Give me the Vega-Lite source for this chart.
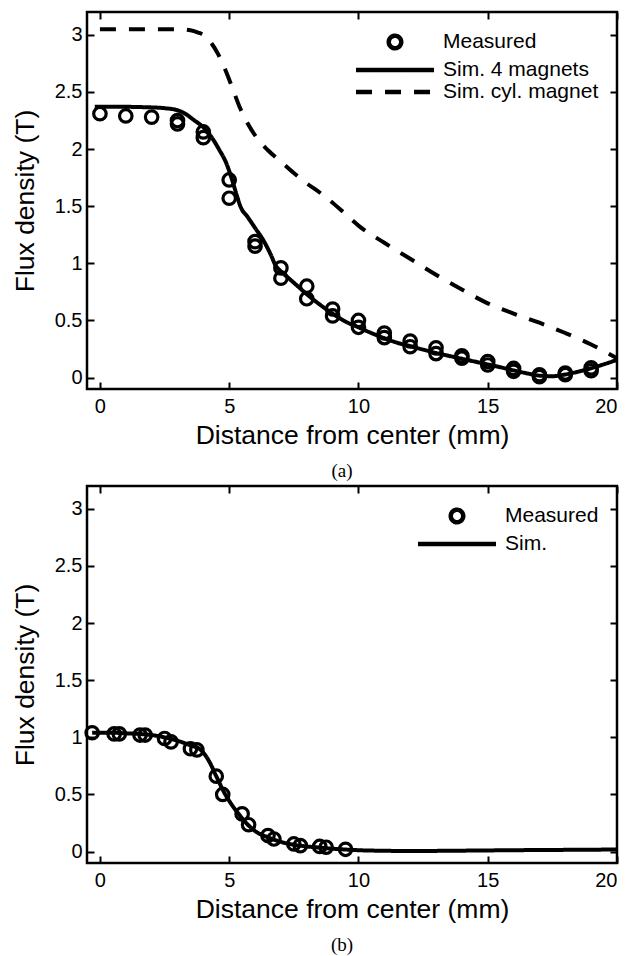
{
  "$schema": "https://vega.github.io/schema/vega-lite/v6.json",
  "background": "white",
  "padding": {"left": 10, "top": 9, "right": 4, "bottom": 5},
  "datasets": {
    "a": [
      {"series": "Sim. 4 magnets", "x": -0.2, "y": 2.37},
      {"series": "Sim. 4 magnets", "x": 0.5, "y": 2.37},
      {"series": "Sim. 4 magnets", "x": 1, "y": 2.37},
      {"series": "Sim. 4 magnets", "x": 1.5, "y": 2.368},
      {"series": "Sim. 4 magnets", "x": 2, "y": 2.365},
      {"series": "Sim. 4 magnets", "x": 2.5, "y": 2.358},
      {"series": "Sim. 4 magnets", "x": 3, "y": 2.34},
      {"series": "Sim. 4 magnets", "x": 3.3, "y": 2.31},
      {"series": "Sim. 4 magnets", "x": 3.6, "y": 2.26},
      {"series": "Sim. 4 magnets", "x": 4, "y": 2.19},
      {"series": "Sim. 4 magnets", "x": 4.3, "y": 2.11},
      {"series": "Sim. 4 magnets", "x": 4.6, "y": 2.0},
      {"series": "Sim. 4 magnets", "x": 4.9, "y": 1.87},
      {"series": "Sim. 4 magnets", "x": 5.1, "y": 1.74},
      {"series": "Sim. 4 magnets", "x": 5.3, "y": 1.59},
      {"series": "Sim. 4 magnets", "x": 5.45, "y": 1.49},
      {"series": "Sim. 4 magnets", "x": 5.7, "y": 1.41},
      {"series": "Sim. 4 magnets", "x": 6.0, "y": 1.31},
      {"series": "Sim. 4 magnets", "x": 6.3, "y": 1.21},
      {"series": "Sim. 4 magnets", "x": 6.6, "y": 1.08},
      {"series": "Sim. 4 magnets", "x": 6.8, "y": 0.98},
      {"series": "Sim. 4 magnets", "x": 7.0, "y": 0.93},
      {"series": "Sim. 4 magnets", "x": 7.3, "y": 0.87},
      {"series": "Sim. 4 magnets", "x": 7.7, "y": 0.79},
      {"series": "Sim. 4 magnets", "x": 8.0, "y": 0.73},
      {"series": "Sim. 4 magnets", "x": 8.5, "y": 0.64},
      {"series": "Sim. 4 magnets", "x": 9, "y": 0.56},
      {"series": "Sim. 4 magnets", "x": 9.5, "y": 0.49},
      {"series": "Sim. 4 magnets", "x": 10, "y": 0.44},
      {"series": "Sim. 4 magnets", "x": 10.5, "y": 0.39},
      {"series": "Sim. 4 magnets", "x": 11, "y": 0.345},
      {"series": "Sim. 4 magnets", "x": 11.5, "y": 0.305},
      {"series": "Sim. 4 magnets", "x": 12, "y": 0.275},
      {"series": "Sim. 4 magnets", "x": 12.5, "y": 0.245},
      {"series": "Sim. 4 magnets", "x": 13, "y": 0.215},
      {"series": "Sim. 4 magnets", "x": 13.5, "y": 0.19},
      {"series": "Sim. 4 magnets", "x": 14, "y": 0.165},
      {"series": "Sim. 4 magnets", "x": 14.5, "y": 0.14},
      {"series": "Sim. 4 magnets", "x": 15, "y": 0.115},
      {"series": "Sim. 4 magnets", "x": 15.5, "y": 0.09},
      {"series": "Sim. 4 magnets", "x": 16, "y": 0.063},
      {"series": "Sim. 4 magnets", "x": 16.5, "y": 0.038},
      {"series": "Sim. 4 magnets", "x": 17, "y": 0.017},
      {"series": "Sim. 4 magnets", "x": 17.5, "y": 0.012},
      {"series": "Sim. 4 magnets", "x": 18, "y": 0.027},
      {"series": "Sim. 4 magnets", "x": 18.5, "y": 0.052},
      {"series": "Sim. 4 magnets", "x": 19, "y": 0.082},
      {"series": "Sim. 4 magnets", "x": 19.5, "y": 0.117},
      {"series": "Sim. 4 magnets", "x": 20, "y": 0.155},
      {"series": "Sim. cyl. magnet", "x": 0, "y": 3.05},
      {"series": "Sim. cyl. magnet", "x": 1, "y": 3.05},
      {"series": "Sim. cyl. magnet", "x": 2, "y": 3.05},
      {"series": "Sim. cyl. magnet", "x": 3, "y": 3.05},
      {"series": "Sim. cyl. magnet", "x": 3.5, "y": 3.04},
      {"series": "Sim. cyl. magnet", "x": 3.8, "y": 3.02},
      {"series": "Sim. cyl. magnet", "x": 4.0, "y": 3.0},
      {"series": "Sim. cyl. magnet", "x": 4.3, "y": 2.93},
      {"series": "Sim. cyl. magnet", "x": 4.55, "y": 2.84},
      {"series": "Sim. cyl. magnet", "x": 4.8, "y": 2.72},
      {"series": "Sim. cyl. magnet", "x": 5.1, "y": 2.55},
      {"series": "Sim. cyl. magnet", "x": 5.4, "y": 2.37},
      {"series": "Sim. cyl. magnet", "x": 5.7, "y": 2.23},
      {"series": "Sim. cyl. magnet", "x": 6.1, "y": 2.09},
      {"series": "Sim. cyl. magnet", "x": 6.5, "y": 1.99},
      {"series": "Sim. cyl. magnet", "x": 7, "y": 1.89},
      {"series": "Sim. cyl. magnet", "x": 7.5, "y": 1.79},
      {"series": "Sim. cyl. magnet", "x": 8, "y": 1.70},
      {"series": "Sim. cyl. magnet", "x": 8.5, "y": 1.62},
      {"series": "Sim. cyl. magnet", "x": 9, "y": 1.53},
      {"series": "Sim. cyl. magnet", "x": 9.5, "y": 1.43},
      {"series": "Sim. cyl. magnet", "x": 10, "y": 1.33},
      {"series": "Sim. cyl. magnet", "x": 11, "y": 1.18},
      {"series": "Sim. cyl. magnet", "x": 12, "y": 1.04},
      {"series": "Sim. cyl. magnet", "x": 13, "y": 0.90},
      {"series": "Sim. cyl. magnet", "x": 14, "y": 0.77},
      {"series": "Sim. cyl. magnet", "x": 15, "y": 0.65},
      {"series": "Sim. cyl. magnet", "x": 16, "y": 0.56},
      {"series": "Sim. cyl. magnet", "x": 17, "y": 0.48},
      {"series": "Sim. cyl. magnet", "x": 18, "y": 0.39},
      {"series": "Sim. cyl. magnet", "x": 19, "y": 0.29},
      {"series": "Sim. cyl. magnet", "x": 20, "y": 0.17},
      {"series": "Measured", "x": 0, "y": 2.31},
      {"series": "Measured", "x": 1, "y": 2.29},
      {"series": "Measured", "x": 2, "y": 2.28},
      {"series": "Measured", "x": 3, "y": 2.25},
      {"series": "Measured", "x": 3, "y": 2.22},
      {"series": "Measured", "x": 4, "y": 2.15},
      {"series": "Measured", "x": 4, "y": 2.10},
      {"series": "Measured", "x": 5, "y": 1.73},
      {"series": "Measured", "x": 5, "y": 1.57},
      {"series": "Measured", "x": 6, "y": 1.19},
      {"series": "Measured", "x": 6, "y": 1.15},
      {"series": "Measured", "x": 7, "y": 0.96},
      {"series": "Measured", "x": 7, "y": 0.87},
      {"series": "Measured", "x": 8, "y": 0.80},
      {"series": "Measured", "x": 8, "y": 0.69},
      {"series": "Measured", "x": 9, "y": 0.60},
      {"series": "Measured", "x": 9, "y": 0.54},
      {"series": "Measured", "x": 10, "y": 0.50},
      {"series": "Measured", "x": 10, "y": 0.44},
      {"series": "Measured", "x": 11, "y": 0.39},
      {"series": "Measured", "x": 11, "y": 0.35},
      {"series": "Measured", "x": 12, "y": 0.32},
      {"series": "Measured", "x": 12, "y": 0.27},
      {"series": "Measured", "x": 13, "y": 0.26},
      {"series": "Measured", "x": 13, "y": 0.21},
      {"series": "Measured", "x": 14, "y": 0.19},
      {"series": "Measured", "x": 14, "y": 0.17},
      {"series": "Measured", "x": 15, "y": 0.14},
      {"series": "Measured", "x": 15, "y": 0.11},
      {"series": "Measured", "x": 16, "y": 0.08},
      {"series": "Measured", "x": 16, "y": 0.055},
      {"series": "Measured", "x": 17, "y": 0.025},
      {"series": "Measured", "x": 17, "y": 0.008},
      {"series": "Measured", "x": 18, "y": 0.04},
      {"series": "Measured", "x": 18, "y": 0.025},
      {"series": "Measured", "x": 19, "y": 0.085},
      {"series": "Measured", "x": 19, "y": 0.06}
    ],
    "b": [
      {"series": "Sim.", "x": -0.3, "y": 1.04},
      {"series": "Sim.", "x": 0.5, "y": 1.04},
      {"series": "Sim.", "x": 1, "y": 1.035},
      {"series": "Sim.", "x": 1.5, "y": 1.03},
      {"series": "Sim.", "x": 2, "y": 1.02},
      {"series": "Sim.", "x": 2.5, "y": 1.0},
      {"series": "Sim.", "x": 3, "y": 0.97},
      {"series": "Sim.", "x": 3.5, "y": 0.93},
      {"series": "Sim.", "x": 3.9, "y": 0.89},
      {"series": "Sim.", "x": 4.2, "y": 0.80},
      {"series": "Sim.", "x": 4.5, "y": 0.66},
      {"series": "Sim.", "x": 4.8, "y": 0.52},
      {"series": "Sim.", "x": 5.1, "y": 0.41},
      {"series": "Sim.", "x": 5.4, "y": 0.32},
      {"series": "Sim.", "x": 5.7, "y": 0.24},
      {"series": "Sim.", "x": 6.0, "y": 0.18},
      {"series": "Sim.", "x": 6.5, "y": 0.125},
      {"series": "Sim.", "x": 7.0, "y": 0.085},
      {"series": "Sim.", "x": 7.5, "y": 0.06},
      {"series": "Sim.", "x": 8, "y": 0.045},
      {"series": "Sim.", "x": 8.5, "y": 0.035},
      {"series": "Sim.", "x": 9, "y": 0.025},
      {"series": "Sim.", "x": 9.5, "y": 0.018},
      {"series": "Sim.", "x": 10, "y": 0.012},
      {"series": "Sim.", "x": 11, "y": 0.007},
      {"series": "Sim.", "x": 12, "y": 0.005},
      {"series": "Sim.", "x": 14, "y": 0.008},
      {"series": "Sim.", "x": 16, "y": 0.012},
      {"series": "Sim.", "x": 18, "y": 0.015},
      {"series": "Sim.", "x": 20, "y": 0.018},
      {"series": "Measured", "x": -0.3, "y": 1.04},
      {"series": "Measured", "x": 0.55, "y": 1.03},
      {"series": "Measured", "x": 0.75, "y": 1.03},
      {"series": "Measured", "x": 1.55, "y": 1.02},
      {"series": "Measured", "x": 1.75, "y": 1.02},
      {"series": "Measured", "x": 2.5, "y": 0.99},
      {"series": "Measured", "x": 2.75, "y": 0.96},
      {"series": "Measured", "x": 3.5, "y": 0.90},
      {"series": "Measured", "x": 3.75, "y": 0.89},
      {"series": "Measured", "x": 4.5, "y": 0.66},
      {"series": "Measured", "x": 4.75, "y": 0.50},
      {"series": "Measured", "x": 5.5, "y": 0.33},
      {"series": "Measured", "x": 5.75, "y": 0.235},
      {"series": "Measured", "x": 6.5, "y": 0.14},
      {"series": "Measured", "x": 6.73, "y": 0.11},
      {"series": "Measured", "x": 7.5, "y": 0.067},
      {"series": "Measured", "x": 7.75, "y": 0.052},
      {"series": "Measured", "x": 8.5, "y": 0.045},
      {"series": "Measured", "x": 8.75, "y": 0.038},
      {"series": "Measured", "x": 9.5, "y": 0.02}
    ]
  },
  "config": {
    "font": "Liberation Sans",
    "view": {"stroke": "black", "strokeWidth": 2.5},
    "axis": {
      "labelFont": "Liberation Sans", "titleFont": "Liberation Sans",
      "labelFontSize": 20, "titleFontSize": 26.5, "titleFontWeight": "normal",
      "labelColor": "black", "titleColor": "black",
      "tickColor": "black", "tickWidth": 2, "tickSize": -7,
      "domain": false, "grid": false
    },
    "legend": {
      "orient": "top-right", "offset": 18, "padding": 0,
      "labelFont": "Liberation Sans", "labelFontSize": 21, "labelColor": "black",
      "symbolSize": 380, "symbolStrokeWidth": 4.5, "symbolStrokeColor": "black",
      "symbolFillColor": "transparent",
      "labelOffset": 36, "rowPadding": 0
    },
    "title": {"font": "Liberation Serif", "fontSize": 19, "fontWeight": "normal", "color": "black"}
  },
  "spacing": 1,
  "resolve": {"scale": {"x": "independent", "y": "independent", "shape": "independent", "strokeDash": "independent"}},
  "vconcat": [
    {
      "width": 530, "height": 377,
      "title": {"text": "(a)", "orient": "bottom", "anchor": "middle", "offset": 13, "dx": -10},
      "data": {"name": "a"},
      "resolve": {"axis": {"x": "independent", "y": "independent"}},
      "layer": [
        {
          "transform": [{"filter": "datum.series !== 'Measured'"}],
          "mark": {"type": "line", "color": "black", "strokeWidth": 4, "interpolate": "monotone"},
          "encoding": {
            "x": {"field": "x", "type": "quantitative", "scale": {"domain": [-0.5, 20], "nice": false, "zero": false},
                  "axis": {"orient": "bottom", "values": [0, 5, 10, 15, 20], "labelPadding": 14, "title": "Distance from center (mm)", "titlePadding": 6}},
            "y": {"field": "y", "type": "quantitative", "scale": {"domain": [-0.1, 3.2], "nice": false, "zero": false},
                  "axis": {"orient": "left", "values": [0, 0.5, 1, 1.5, 2, 2.5, 3], "format": "~g", "labelPadding": 12, "title": "Flux density (T)", "titlePadding": 15}},
            "detail": {"field": "series"},
            "strokeDash": {"field": "series", "type": "nominal",
              "scale": {"domain": ["Measured", "Sim. 4 magnets", "Sim. cyl. magnet"], "range": [[1, 0], [1, 0], [16, 13]]},
              "legend": {"title": null}}
          }
        },
        {
          "transform": [{"filter": "datum.series === 'Measured'"}],
          "mark": {"type": "point", "filled": false, "color": "black", "strokeWidth": 3.2, "size": 380, "opacity": 1},
          "encoding": {
            "x": {"field": "x", "type": "quantitative", "axis": {"orient": "top", "values": [0, 5, 10, 15, 20], "labels": false, "title": null}},
            "y": {"field": "y", "type": "quantitative", "axis": {"orient": "right", "values": [0, 0.5, 1, 1.5, 2, 2.5, 3], "labels": false, "title": null}},
            "shape": {"field": "series", "type": "nominal",
              "scale": {"domain": ["Measured", "Sim. 4 magnets", "Sim. cyl. magnet"],
                        "range": ["M -0.64,0 A 0.64,0.64 0 1 1 0.64,0 A 0.64,0.64 0 1 1 -0.64,0 Z", "M -4,0 L 4,0", "M -4,0 L 4,0"]},
              "legend": {"title": null}}
          }
        }
      ]
    },
    {
      "width": 530, "height": 377,
      "title": {"text": "(b)", "orient": "bottom", "anchor": "middle", "offset": 13, "dx": -10},
      "data": {"name": "b"},
      "resolve": {"axis": {"x": "independent", "y": "independent"}},
      "layer": [
        {
          "transform": [{"filter": "datum.series !== 'Measured'"}],
          "mark": {"type": "line", "color": "black", "strokeWidth": 4, "interpolate": "monotone"},
          "encoding": {
            "x": {"field": "x", "type": "quantitative", "scale": {"domain": [-0.5, 20], "nice": false, "zero": false},
                  "axis": {"orient": "bottom", "values": [0, 5, 10, 15, 20], "labelPadding": 14, "title": "Distance from center (mm)", "titlePadding": 6}},
            "y": {"field": "y", "type": "quantitative", "scale": {"domain": [-0.1, 3.2], "nice": false, "zero": false},
                  "axis": {"orient": "left", "values": [0, 0.5, 1, 1.5, 2, 2.5, 3], "format": "~g", "labelPadding": 12, "title": "Flux density (T)", "titlePadding": 15}},
            "detail": {"field": "series"},
            "strokeDash": {"field": "series", "type": "nominal",
              "scale": {"domain": ["Measured", "Sim."], "range": [[1, 0], [1, 0]]},
              "legend": {"title": null}}
          }
        },
        {
          "transform": [{"filter": "datum.series === 'Measured'"}],
          "mark": {"type": "point", "filled": false, "color": "black", "strokeWidth": 3.2, "size": 380, "opacity": 1},
          "encoding": {
            "x": {"field": "x", "type": "quantitative", "axis": {"orient": "top", "values": [0, 5, 10, 15, 20], "labels": false, "title": null}},
            "y": {"field": "y", "type": "quantitative", "axis": {"orient": "right", "values": [0, 0.5, 1, 1.5, 2, 2.5, 3], "labels": false, "title": null}},
            "shape": {"field": "series", "type": "nominal",
              "scale": {"domain": ["Measured", "Sim."],
                        "range": ["M -0.64,0 A 0.64,0.64 0 1 1 0.64,0 A 0.64,0.64 0 1 1 -0.64,0 Z", "M -4,0 L 4,0"]},
              "legend": {"title": null}}
          }
        }
      ]
    }
  ]
}
